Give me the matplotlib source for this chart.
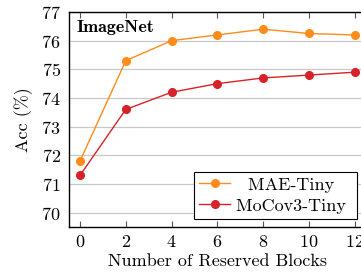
import numpy as np
import matplotlib.pyplot as plt

plt.rcParams['font.family'] = ['cmr10', 'DejaVu Serif']
plt.rcParams['axes.formatter.use_mathtext'] = True
plt.rcParams['mathtext.fontset'] = 'cm'

# data
blocks = [0, 2, 4, 6, 8, 10, 12]
mae_tiny = [71.8, 75.3, 76.0, 76.2, 76.4, 76.25, 76.2]
mocov3_tiny = [71.3, 73.6, 74.2, 74.5, 74.7, 74.8, 74.9]

fig = plt.figure(figsize=(3.61, 2.73), dpi=100)
ax = fig.add_axes([69/361, 46/273, 297/361, 215/273])

# leading spaces roughly center the shorter label like pgfplots does
ax.plot(blocks, mae_tiny, marker='o', color='#ff8c1a', markersize=5.5,
        linewidth=1, label='  MAE-Tiny ', zorder=3)
ax.plot(blocks, mocov3_tiny, marker='o', color='#d62228', markersize=5.5,
        linewidth=1, label='MoCov3-Tiny ', zorder=3)

ax.set_xlim(-0.48, 12.5)
ax.set_ylim(69.5, 77)
ax.set_xticks(blocks)
ax.set_yticks(range(70, 78))
ax.yaxis.grid(True, color='#c8c8c8', linewidth=0.9)
ax.set_axisbelow(True)
ax.tick_params(axis='x', direction='in', top=True, length=4, labelsize=13,
               color='#555555', pad=5)
ax.tick_params(axis='y', direction='in', length=0, labelsize=13, pad=6)

ax.set_xlabel('Number of Reserved Blocks', fontsize=13, labelpad=3)
ax.set_ylabel('Acc (%)', fontsize=13, labelpad=6)

ax.text(0.025, 0.965, 'ImageNet', transform=ax.transAxes, fontsize=13,
        family=['cmb10', 'DejaVu Serif'], va='top', ha='left')

leg = ax.legend(loc='lower right', bbox_to_anchor=(0.970, 0.037), fontsize=13,
                fancybox=False, edgecolor='black', framealpha=1,
                handlelength=1.72, handletextpad=0.3, borderpad=0.3,
                labelspacing=0.3, borderaxespad=0)
leg.get_frame().set_linewidth(0.8)

for s in ax.spines.values():
    s.set_linewidth(1)

fig.savefig('out.png', dpi=100)
